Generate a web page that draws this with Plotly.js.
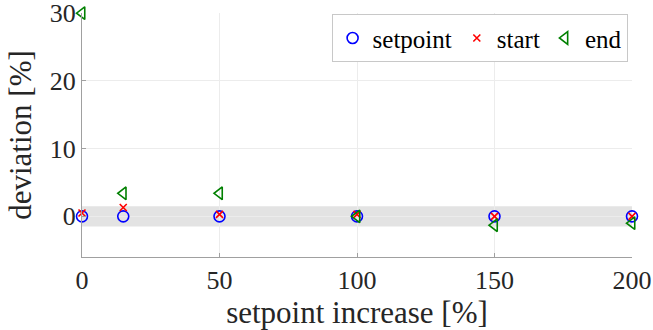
<!DOCTYPE html>
<html>
<head>
<meta charset="utf-8">
<script src="https://cdn.plot.ly/plotly-3.0.1.min.js"></script>
<style>
html,body{margin:0;padding:0;background:#fff;}
#chart{width:653px;height:330px;}
#chart text{font-family:'Liberation Serif' !important;}
</style>
</head>
<body>
<div id="chart"></div>
<script>
var increase = [0, 15, 50, 100, 150, 200];
var setpointDev = [0, 0, 0, 0, 0, 0];
var startDev = [0.5, 1.3, 0.3, 0.3, 0.0, 0.0];
var endDev = [30, 3.4, 3.4, 0.0, -1.3, -1.0];
var xTicks = [0, 50, 100, 150, 200];
var yTicks = [0, 10, 20, 30];
var band = [-1.5, 1.5];

var serif = "Liberation Serif";
var traces = [
  {x: increase, y: setpointDev, name: "setpoint", mode: "markers", type: "scatter", cliponaxis: false,
   marker: {symbol: "circle-open", size: 11, color: "#0000ff", line: {width: 1.6, color: "#0000ff"}}},
  {x: increase, y: startDev, name: "start", mode: "markers", type: "scatter", cliponaxis: false,
   marker: {symbol: "x-thin-open", size: 7, color: "#ff0000", line: {width: 1.6, color: "#ff0000"}}},
  {x: increase, y: endDev, name: "end", mode: "markers", type: "scatter", cliponaxis: false,
   marker: {symbol: "triangle-left-open", size: 11, color: "#008000", line: {width: 1.6, color: "#008000"}}}
];
var layout = {
  width: 653, height: 330,
  margin: {l: 82, r: 21, t: 13, b: 73},
  paper_bgcolor: "#ffffff", plot_bgcolor: "#ffffff",
  font: {family: serif, size: 22, color: "#262626"},
  showlegend: true,
  legend: {orientation: "h", x: 0.992, xanchor: "right", y: 0.995, yanchor: "top",
           bgcolor: "#ffffff", bordercolor: "#c8c8c8", borderwidth: 1,
           font: {family: serif, size: 25, color: "#000"}, itemwidth: 30, tracegroupgap: 0},
  xaxis: {range: [0, 200], tickvals: xTicks, ticktext: xTicks.map(String), ticklabeloverflow: "allow",
          showgrid: true, gridcolor: "#ececec", gridwidth: 1, zeroline: false,
          showline: true, linecolor: "#a0a0a0", linewidth: 1, ticks: "inside", ticklen: 4, tickcolor: "#a0a0a0",
          tickfont: {family: serif, size: 26, color: "#262626"},
          title: {text: "setpoint increase [%]", font: {family: serif, size: 31, color: "#262626"}, standoff: 2}},
  yaxis: {range: [-6, 30.02], tickvals: yTicks, ticktext: yTicks.map(String), ticklabeloverflow: "allow",
          showgrid: true, gridcolor: "#ececec", gridwidth: 1, zeroline: false,
          showline: true, linecolor: "#a0a0a0", linewidth: 1, ticks: "inside", ticklen: 4, tickcolor: "#a0a0a0",
          tickfont: {family: serif, size: 26, color: "#262626"},
          title: {text: "deviation [%]", font: {family: serif, size: 31, color: "#262626"}, standoff: 8}},
  shapes: [{type: "rect", xref: "x", yref: "y", x0: xTicks[0], x1: xTicks[xTicks.length-1], y0: band[0], y1: band[1],
            fillcolor: "#e3e3e3", line: {width: 0}, layer: "below"}]
};
Plotly.newPlot("chart", traces, layout, {displayModeBar: false, staticPlot: true});
</script>
</body>
</html>
